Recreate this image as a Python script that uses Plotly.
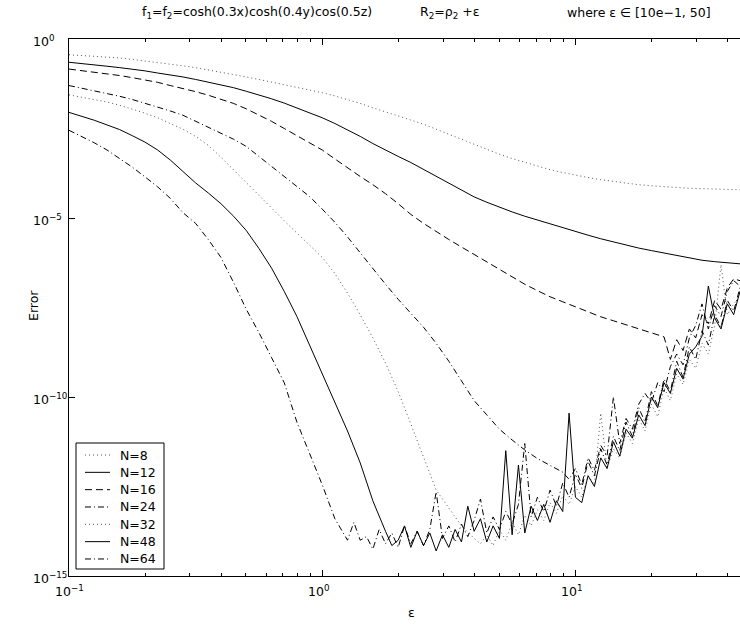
import numpy as np
import plotly.graph_objects as go

# log10(eps) grids: coarse (smooth part) and fine (noise-floor part)
LOG_EPS_COARSE = np.round(np.arange(-1.0, 1.6501, 0.05), 3)
LOG_EPS_FINE = np.round(np.arange(0.075, 1.6501, 0.025), 3)

labels = ["N=8", "N=12", "N=16", "N=24", "N=32", "N=48", "N=64"]

# log10(Error) values (smooth part, 0.05-decade steps from eps=0.1)
n8_smooth = [-0.44, -0.46, -0.48, -0.5, -0.53, -0.57, -0.61, -0.65, -0.7, -0.75,
             -0.8, -0.86, -0.93, -0.99, -1.06, -1.13, -1.2, -1.28, -1.35, -1.42,
             -1.5, -1.59, -1.69, -1.8, -1.92, -2.03, -2.15, -2.26, -2.38, -2.52,
             -2.66, -2.81, -2.95, -3.09, -3.22, -3.34, -3.45, -3.55, -3.65, -3.73,
             -3.81, -3.87, -3.93, -3.98, -4.03, -4.07, -4.1, -4.13, -4.15, -4.17,
             -4.18, -4.19, -4.2, -4.21]
n12_smooth = [-0.65, -0.68, -0.72, -0.76, -0.8, -0.84, -0.89, -0.95, -1.0, -1.06,
              -1.13, -1.2, -1.28, -1.36, -1.46, -1.56, -1.67, -1.79, -1.92, -2.06,
              -2.2, -2.36, -2.53, -2.72, -2.92, -3.11, -3.28, -3.45, -3.64, -3.84,
              -4.03, -4.22, -4.41, -4.56, -4.7, -4.83, -4.95, -5.06, -5.17, -5.27,
              -5.38, -5.48, -5.58, -5.67, -5.76, -5.84, -5.91, -5.98, -6.06, -6.13,
              -6.18, -6.22, -6.25, -6.28]
n16_smooth = [-0.84, -0.88, -0.92, -0.97, -1.02, -1.08, -1.14, -1.21, -1.3, -1.38,
              -1.47, -1.57, -1.68, -1.8, -1.95, -2.12, -2.3, -2.5, -2.7, -2.9,
              -3.1, -3.35, -3.6, -3.84, -4.07, -4.32, -4.6, -4.9, -5.15, -5.38,
              -5.6, -5.81, -6.02, -6.24, -6.45, -6.65, -6.85, -7.03, -7.2, -7.34,
              -7.48, -7.62, -7.76, -7.87, -7.98, -8.09, -8.2, -8.32]
n24_smooth = [-1.3, -1.37, -1.44, -1.52, -1.6, -1.69, -1.79, -1.9, -2.01, -2.13,
              -2.3, -2.47, -2.65, -2.8, -3.0, -3.28, -3.55, -3.82, -4.1, -4.4,
              -4.75, -5.12, -5.53, -5.98, -6.43, -6.85, -7.27, -7.65, -8.05, -8.5,
              -9.0, -9.55, -10.1, -10.5, -10.9, -11.2, -11.48, -11.72, -11.92, -12.1]
n32_smooth = [-1.56, -1.62, -1.68, -1.76, -1.85, -1.95, -2.07, -2.2, -2.35, -2.52,
              -2.72, -2.97, -3.3, -3.65, -4.0, -4.35, -4.72, -5.08, -5.42, -5.75,
              -6.1, -6.55, -7.1, -7.7, -8.35, -9.05, -9.85, -10.75, -11.7, -12.6,
              -13.1, -13.6, -13.95]
n48_smooth = [-2.05, -2.15, -2.27, -2.4, -2.53, -2.7, -2.88, -3.1, -3.38, -3.7,
              -4.02, -4.3, -4.6, -4.95, -5.35, -5.85, -6.4, -7.05, -7.75, -8.55,
              -9.35, -10.15, -10.95, -11.84, -12.9, -13.75]
n64_smooth = [-2.55, -2.72, -2.9, -3.1, -3.33, -3.58, -3.85, -4.13, -4.45, -4.85,
              -5.15, -5.6, -6.1, -6.8, -7.55, -8.2, -8.9, -9.6, -10.7, -11.55,
              -12.45, -13.4, -14.0]

# log10(Error) in the noise floor (0.025-decade steps)
n16_noise_start = 1.375
n16_noise = [-8.95, -8.4, -8.7, -8.1, -8.35, -7.7, -7.95, -7.3, -7.55, -6.95, -6.7, -6.75]
n24_noise_start = 0.975
n24_noise = [-12.3, -12.0, -12.45, -11.7, -12.05, -11.35, -11.65, -10.0, -11.3, -10.6,
             -10.9, -10.2, -9.9, -10.15, -9.6, -9.85, -9.15, -8.8, -9.1, -8.35,
             -8.0, -7.4, -8.1, -7.45, -7.75, -7.05, -6.75, -6.9]
n32_noise_start = 0.625
n32_noise = [-14.1, -13.85, -14.15, -13.7, -14.0, -13.5, -13.85, -13.3, -13.6, -13.15,
             -13.45, -12.95, -13.25, -12.75, -13.0, -12.5, -12.8, -12.2, -12.45, -10.45,
             -12.0, -11.45, -11.7, -11.0, -11.3, -10.6, -10.95, -10.2, -10.55, -9.75,
             -10.1, -9.35, -9.65, -8.95, -9.2, -8.5, -8.8, -8.0, -6.3, -7.7,
             -7.4, -7.2]
n48_noise_start = 0.275
n48_noise = [-14.15, -14.0, -13.6, -14.2, -13.75, -14.15, -13.8, -14.3, -13.85, -14.2,
             -13.7, -14.05, -13.05, -13.75, -13.4, -14.05, -13.6, -13.95, -11.5, -13.85,
             -11.9, -13.8, -13.05, -13.45, -13.0, -13.5, -12.9, -13.2, -10.45, -12.8,
             -12.95, -12.2, -12.5, -11.7, -12.0, -11.25, -11.65, -10.9, -11.15, -10.5,
             -10.8, -10.0, -10.3, -9.6, -9.9, -9.2, -9.5, -8.8, -8.6, -8.3,
             -6.9, -7.8, -8.1, -7.4, -7.7, -7.05]
n64_noise_start = 0.125
n64_noise = [-13.5, -14.0, -13.9, -14.25, -13.7, -14.1, -13.8, -14.2, -13.6, -14.1,
             -13.75, -14.15, -13.7, -12.65, -13.95, -13.6, -14.05, -13.55, -13.9, -13.45,
             -12.85, -13.8, -13.35, -13.7, -13.2, -13.55, -13.0, -11.3, -13.35, -12.8,
             -13.2, -12.6, -13.05, -12.4, -12.8, -12.15, -12.55, -11.8, -12.2, -11.45,
             -11.9, -11.1, -11.5, -10.7, -11.1, -10.3, -10.7, -9.85, -10.25, -9.5,
             -9.85, -9.0, -9.45, -8.6, -8.95, -8.15, -8.55, -7.7, -8.05, -7.3,
             -7.6, -6.95]

series = [
    (n8_smooth, None, []),
    (n12_smooth, None, []),
    (n16_smooth, n16_noise_start, n16_noise),
    (n24_smooth, n24_noise_start, n24_noise),
    (n32_smooth, n32_noise_start, n32_noise),
    (n48_smooth, n48_noise_start, n48_noise),
    (n64_smooth, n64_noise_start, n64_noise),
]

styles = [
    dict(color="#555555", width=1, dash="1px,3px"),
    dict(color="black", width=1, dash="solid"),
    dict(color="black", width=1, dash="7px,4px"),
    dict(color="black", width=1, dash="6px,3px,1px,3px"),
    dict(color="#555555", width=1, dash="1px,3px"),
    dict(color="black", width=1, dash="solid"),
    dict(color="black", width=1, dash="6px,3px,1px,3px"),
]

fig = go.Figure()
for lab, (sm, ns, nv), st in zip(labels, series, styles):
    lx = list(LOG_EPS_COARSE[:len(sm)])
    ly = list(sm)
    if ns is not None:
        i0 = int(np.argmin(np.abs(LOG_EPS_FINE - ns)))
        fx = LOG_EPS_FINE[i0:i0 + len(nv)]
        assert len(fx) == len(nv)
        lx += list(fx)
        ly += list(nv)
    fig.add_trace(go.Scatter(
        x=10 ** np.array(lx), y=10 ** np.array(ly), mode="lines", name=lab,
        line=st, showlegend=False,
    ))

L, R, T, B = 69, 0, 39, 48
W, H = 740, 624
pw, ph = W - L - R, H - T - B

def px_x(px):
    return (px - L) / pw

def px_y(py):
    return (H - B - py) / ph

font = "DejaVu Sans, Verdana, sans-serif"
FS = 12.5

xt_exps = [-1, 0, 1]
x_minor = [k * 0.1 for k in range(2, 10)] + list(range(2, 10)) + [20, 30, 40]
yt_exps = [0, -5, -10, -15]

def sup(e):
    return "10<sup>" + (str(e) if e >= 0 else "\u2212" + str(-e)) + "</sup>"

annotations = []
# x tick labels ("10" ends at the tick, exponent to its right)
for e in xt_exps:
    annotations.append(dict(text=sup(e), xref="x", yref="paper", x=e, y=px_y(589),
                            xanchor="left", yanchor="middle", xshift=-16.5, yshift=-2,
                            showarrow=False, font=dict(size=FS)))
# y tick labels ("10" aligned, exponent to the right)
for e in yt_exps:
    annotations.append(dict(text=sup(e), xref="paper", yref="y", x=px_x(31), y=e,
                            xanchor="left", yanchor="middle", yshift=-2,
                            showarrow=False, font=dict(size=FS)))
# axis titles
annotations.append(dict(text="\u03b5", xref="paper", yref="paper", x=px_x(411), y=px_y(612),
                        xanchor="center", yanchor="middle", showarrow=False, font=dict(size=FS)))
annotations.append(dict(text="Error", xref="paper", yref="paper", x=px_x(33), y=px_y(306),
                        xanchor="center", yanchor="middle", textangle=-90,
                        showarrow=False, font=dict(size=FS)))
# title pieces
for txt, px in [("f<sub>1</sub>=f<sub>2</sub>=cosh(0.3x)cosh(0.4y)cos(0.5z)", 140),
                ("R<sub>2</sub>=\u03c1<sub>2</sub> +\u03b5", 418),
                ("where \u03b5 \u2208 [10e\u22121, 50]", 565)]:
    annotations.append(dict(text=txt, xref="paper", yref="paper", x=px_x(px), y=px_y(13),
                            xanchor="left", yanchor="middle", showarrow=False,
                            font=dict(size=FS)))

# legend box drawn by hand (MATLAB-style tight rows)
shapes = [dict(type="rect", xref="paper", yref="paper",
               x0=px_x(76), x1=px_x(164), y0=px_y(569), y1=px_y(443),
               line=dict(color="black", width=1), fillcolor="white", layer="above")]
row0, drow = 455, 17.33
for i, (lab, st) in enumerate(zip(labels, styles)):
    yy = px_y(row0 + i * drow)
    shapes.append(dict(type="line", xref="paper", yref="paper",
                       x0=px_x(85), x1=px_x(110), y0=yy, y1=yy,
                       line=dict(color=st["color"], width=1, dash=st["dash"]), layer="above"))
    annotations.append(dict(text=lab, xref="paper", yref="paper", x=px_x(118), y=yy,
                            xanchor="left", yanchor="middle", showarrow=False,
                            font=dict(size=FS)))

fig.update_layout(
    width=W, height=H,
    margin=dict(l=L, r=R, t=T, b=B, pad=0),
    paper_bgcolor="white", plot_bgcolor="white",
    font=dict(family=font, size=FS, color="black"),
    showlegend=False,
    xaxis=dict(
        type="log", range=[-1, 1.65],
        showgrid=False, zeroline=False,
        showline=True, linecolor="black", linewidth=1, mirror="ticks",
        ticks="inside", ticklen=6, tickcolor="black", tickwidth=1,
        tickvals=[10.0 ** e for e in xt_exps], showticklabels=False,
        minor=dict(tickvals=x_minor, ticks="inside", ticklen=3, tickcolor="black", tickwidth=1),
    ),
    yaxis=dict(
        type="log", range=[-15, 0],
        showgrid=False, zeroline=False,
        showline=True, linecolor="black", linewidth=1, mirror=False,
        ticks="inside", ticklen=6, tickcolor="black", tickwidth=1,
        tickvals=[10.0 ** e for e in yt_exps], showticklabels=False,
    ),
    annotations=annotations,
    shapes=shapes,
)

fig.write_html("out.html")
